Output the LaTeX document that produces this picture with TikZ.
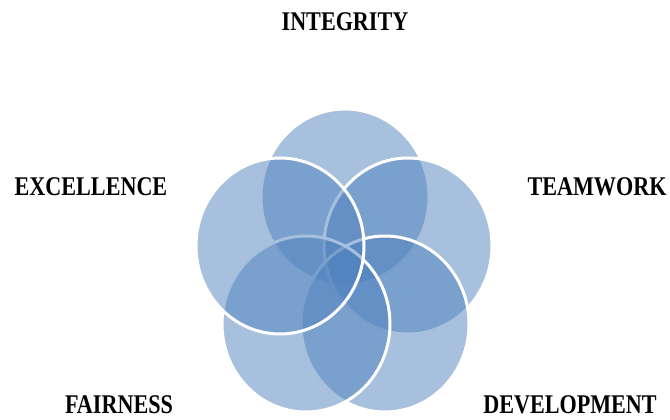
\documentclass[tikz,border=0pt]{standalone}
\usepackage{fontspec}
\newfontfamily\lblfont[FakeStretch=0.82]{Liberation Serif}
\usetikzlibrary{shapes.geometric}
\definecolor{vennblue}{HTML}{4F81BD}
\tikzset{
  venn/.style={ellipse, minimum width=168pt, minimum height=176pt, inner sep=0pt,
    fill=vennblue, fill opacity=0.5, draw=white, draw opacity=1, line width=3pt},
  lbl/.style={font=\lblfont\bfseries\fontsize{27}{27}\selectfont, text=black, inner sep=0pt, anchor=center}
}
\begin{document}
\begin{tikzpicture}[x=1pt,y=-1pt]
\useasboundingbox (0,0) rectangle (670,420);
\node[venn] (top) at (345,197) {};
\node[venn] (right) at (408,246) {};
\node[venn] (bright) at (385,324) {};
\node[venn] (bleft) at (306,324) {};
\node[venn] (left) at (280,246) {};
\node[lbl] (integrity) at (345,22) {INTEGRITY};
\node[lbl] (excellence) at (91,187) {EXCELLENCE};
\node[lbl] (teamwork) at (597,187) {TEAMWORK};
\node[lbl] (fairness) at (119,405) {FAIRNESS};
\node[lbl] (development) at (570,405) {DEVELOPMENT};
\end{tikzpicture}
\end{document}
